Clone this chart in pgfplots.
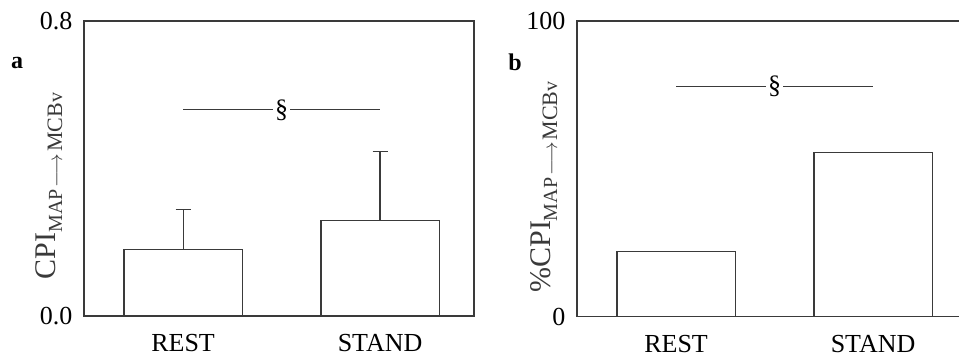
\documentclass[border=0pt]{standalone}
\usepackage{pgfplots}
\pgfplotsset{compat=1.18}
\usepackage{fontspec}
\setmainfont{Liberation Serif}
\definecolor{ln}{HTML}{3A3A3A}
\newcommand{\ylab}[1]{{\fontsize{30}{30}\selectfont #1}\raisebox{-7pt}{\fontsize{20}{20}\selectfont MAP\kern2pt{\fontsize{20}{20}\selectfont$\longrightarrow$}\kern2pt{\fontsize{22}{22}\selectfont MCB}v}}
\begin{document}
\begin{tikzpicture}
\pgfplotsset{
  every axis/.append style={
    scale only axis,
    anchor=south west,
    axis line style={ln, line width=1.1pt},
    major tick length=0pt,
    xmin=-0.503, xmax=1.477,
    xtick={0,1}, xticklabels={REST,STAND},
    tick label style={font=\fontsize{26}{26}\selectfont},
    xticklabel style={yshift=-15pt},
    yticklabel style={xshift=-8pt},
    /pgf/number format/assume math mode=true,
    ymin=0, clip=false,
  },
}
% panel a
\begin{axis}[at={(84pt,44pt)}, width=390pt, height=295pt,
  ymax=0.8, ytick={0,0.8},
  yticklabel style={/pgf/number format/fixed, /pgf/number format/fixed zerofill, /pgf/number format/precision=1},
]
\addplot[ybar, bar width=0.6, fill=white, draw=ln, line width=1.1pt,
  error bars/.cd, y dir=plus, y explicit, error mark=|,
  error bar style={ln, line width=1.1pt},
  error mark options={ln, line width=1.1pt, mark size=7.5pt}]
  coordinates {(0,0.181) +- (0,0.107) (1,0.260) +- (0,0.186)};
\addplot[ln, line width=1.2pt] coordinates {(0,0.559) (1,0.559)};
\node[fill=white, inner sep=2pt, font=\fontsize{26}{26}\selectfont] at (axis cs:0.5,0.559) {\S};
\end{axis}
% panel b
\begin{axis}[at={(577pt,43.5pt)}, width=390pt, height=295.5pt,
  ymax=100, ytick={0,100},
]
\addplot[ybar, bar width=0.6, fill=white, draw=ln, line width=1.1pt]
  coordinates {(0,22.0) (1,55.5)};
\addplot[ln, line width=1.2pt] coordinates {(0,77.9) (1,77.9)};
\node[fill=white, inner sep=2pt, font=\fontsize{26}{26}\selectfont] at (axis cs:0.5,77.9) {\S};
\end{axis}
\node[rotate=90, anchor=base, text=ln, inner sep=0pt] at (55pt,174pt) {\ylab{CPI}};
\node[rotate=90, anchor=base, text=ln, inner sep=0pt] at (550pt,173pt) {\ylab{\%CPI}};
\node[font=\bfseries\fontsize{24}{24}\selectfont] at (17pt,297pt) {a};
\node[font=\bfseries\fontsize{24}{24}\selectfont] at (515pt,298pt) {b};
\pgfresetboundingbox
\useasboundingbox (0pt,0pt) rectangle (959pt,360pt);
\end{tikzpicture}
\end{document}
